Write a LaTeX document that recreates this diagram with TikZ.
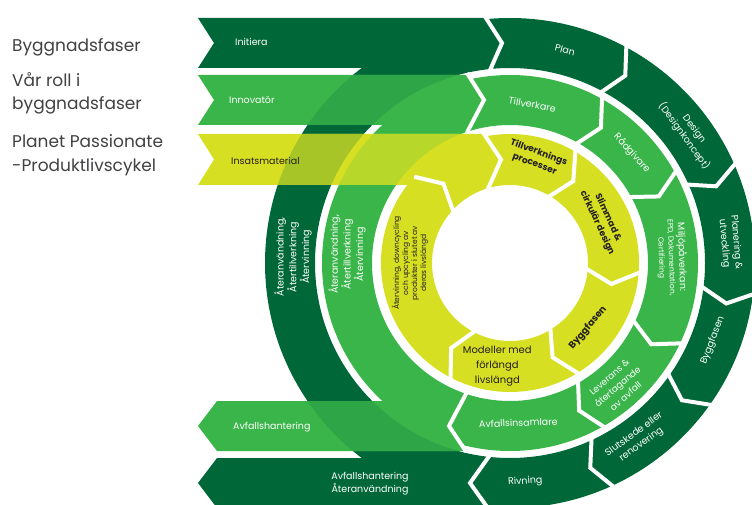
\documentclass[tikz,border=0pt]{standalone}
\usepackage{fontspec}
\setmainfont{Poppins}
\usetikzlibrary{calc}
\definecolor{dkg}{HTML}{006838}
\definecolor{ltg}{HTML}{39B54A}
\definecolor{ylw}{HTML}{D7DF23}
\definecolor{legendc}{HTML}{414042}
\definecolor{ink}{HTML}{231F20}
\colorlet{mixLD}{ltg!80!dkg}
\colorlet{mixYD}{ylw!78!dkg}
\colorlet{mixYL}{ylw!80!ltg}
\newcommand{\bandInit}{(198,-18) -- (485,-18) -- (502,-43) -- (488,-68) -- (198,-68) -- (214,-43) -- cycle}
\newcommand{\bandInno}{(198,-75) -- (467,-75) -- (484,-100) -- (467,-125) -- (198,-125) -- (214,-100) -- cycle}
\newcommand{\bandInsa}{(198,-134) -- (483,-134) -- (501,-159.5) -- (486,-185) -- (198,-185) -- (214,-159.5) -- cycle}
\newcommand{\bandAvfA}{(217,-401) -- (467,-401) -- (449,-426) -- (467,-451) -- (217,-451) -- (198,-426) -- cycle}
\newcommand{\bandAvfB}{(217,-458) -- (490,-458) -- (470,-483) -- (490,-508) -- (217,-508) -- (198,-483) -- cycle}
\newcommand{\ringD}{(C) circle[radius=245pt] (C) circle[radius=195pt]}
\newcommand{\ringL}{(C) circle[radius=188pt] (C) circle[radius=138pt]}
\newcommand{\ringY}{(C) circle[radius=129pt] (C) circle[radius=78pt]}
\begin{document}
\begin{tikzpicture}[x=1pt,y=1pt,
  sep/.style={draw=white, line width=4pt, line join=miter, line cap=butt},
  wlab/.style={text=white, font=\fontsize{9.5}{12}\selectfont, align=center, inner sep=0pt},
  ylab/.style={text=ink, font=\fontsize{9.5}{12.5}\selectfont\bfseries, align=center, inner sep=0pt},
  leg/.style={text=legendc, font=\fontsize{17}{20}\selectfont, anchor=base west, inner sep=0pt},
]
\useasboundingbox (0,0) rectangle (752,-505);
\coordinate (C) at (510,-263);
% rings
\expandafter\fill\expandafter[dkg, even odd rule] \ringD;
\expandafter\fill\expandafter[ltg, even odd rule] \ringL;
\expandafter\fill\expandafter[ylw, even odd rule] \ringY;
% bands
\expandafter\fill\expandafter[dkg] \bandInit;
\expandafter\fill\expandafter[ltg] \bandInno;
\expandafter\fill\expandafter[ylw] \bandInsa;
\expandafter\fill\expandafter[ltg] \bandAvfA;
\expandafter\fill\expandafter[dkg] \bandAvfB;
% overlaps
\begin{scope}
  \expandafter\clip\bandInno;
  \expandafter\fill\expandafter[mixLD, even odd rule] \ringD;
\end{scope}
\begin{scope}
  \expandafter\clip\bandAvfA;
  \expandafter\fill\expandafter[mixLD, even odd rule] \ringD;
\end{scope}
\begin{scope}
  \expandafter\clip\bandInsa;
  \expandafter\fill\expandafter[mixYD, even odd rule] \ringD;
  \expandafter\fill\expandafter[mixYL, even odd rule] \ringL;
\end{scope}
% separators: dark ring
\draw[sep] (484,-15) -- (502,-43) -- (489,-72.5);
\draw[sep] ($(C)+(62:248pt)$) -- ($(C)+(58.4:220pt)$) -- ($(C)+(62:193pt)$);
\draw[sep] ($(C)+(24:248pt)$) -- ($(C)+(20.4:220pt)$) -- ($(C)+(24:193pt)$);
\draw[sep] ($(C)+(-7:248pt)$) -- ($(C)+(-10.6:220pt)$) -- ($(C)+(-7:193pt)$);
\draw[sep] ($(C)+(-35:248pt)$) -- ($(C)+(-38.6:220pt)$) -- ($(C)+(-35:193pt)$);
\draw[sep] ($(C)+(-65:248pt)$) -- ($(C)+(-68.6:220pt)$) -- ($(C)+(-65:193pt)$);
\draw[sep] (490,-455) -- (470,-483) -- (490,-511);
% separators: light ring
\draw[sep] (467,-73) -- (484,-100) -- (467,-132.5);
\draw[sep] ($(C)+(61:190pt)$) -- ($(C)+(56.1:163pt)$) -- ($(C)+(61:136pt)$);
\draw[sep] ($(C)+(29:190pt)$) -- ($(C)+(24.1:163pt)$) -- ($(C)+(29:136pt)$);
\draw[sep] ($(C)+(-25:190pt)$) -- ($(C)+(-29.9:163pt)$) -- ($(C)+(-25:136pt)$);
\draw[sep] ($(C)+(-60:190pt)$) -- ($(C)+(-64.9:163pt)$) -- ($(C)+(-60:136pt)$);
\draw[sep] (467,-392) -- (449,-426) -- (466,-451.5);
% separators: yellow ring
\draw[sep] (483,-132.5) -- (501,-159.5) -- (487,-191);
\draw[sep] ($(C)+(60:131pt)$) -- ($(C)+(52.3:103.5pt)$) -- ($(C)+(60:76pt)$);
\draw[sep] ($(C)+(-4:131pt)$) -- ($(C)+(-11.7:103.5pt)$) -- ($(C)+(-4:76pt)$);
\draw[sep] ($(C)+(-58:131pt)$) -- ($(C)+(-65.7:103.5pt)$) -- ($(C)+(-58:76pt)$);
\draw[sep] ($(C)+(-117:131pt)$) -- ($(C)+(-124.7:103.5pt)$) -- ($(C)+(-117:76pt)$);
\draw[sep] ($(C)+(138:129pt)$) -- ($(C)+(130:103.5pt)$) -- ($(C)+(138:76pt)$);
% legend
\node[leg] (l1) at (12,-52) {Byggnadsfaser};
\node[leg] (l2) at (12,-87) {Vår roll i};
\node[leg] (l3) at (12,-110) {byggnadsfaser};
\node[leg] (l4) at (12,-148) {Planet Passionate};
\node[leg] (l5) at (12,-172) {-Produktlivscykel};
% band labels
\node[wlab, anchor=west] (tInit) at (235,-42) {Initiera};
\node[wlab, anchor=west] (tInno) at (229,-100) {Innovatör};
\node[wlab, text=ink, anchor=west] (tInsa) at (231,-161) {Insatsmaterial};
\node[wlab, font=\fontsize{9.5}{13}\selectfont] (tAvfB) at (370,-484) {Avfallshantering\\Återanvändning};
\node[wlab, anchor=west] (tAvfA) at (233,-427) {Avfallshantering};
% dark ring labels
\node[wlab, rotate=-14.5] (dPlan) at ($(C)+(75.5:220pt)$) {Plan};
\node[wlab, rotate=-54, font=\fontsize{9.5}{12.5}\selectfont] (dDesign) at ($(C)+(36:221pt)$) {Design\\(Designkoncept)};
\node[wlab, rotate=-85] (dPlanering) at ($(C)+(5.2:221pt)$) {Planering \&\\utveckling};
\node[wlab, rotate=69] (dBygg) at ($(C)+(-20.9:217pt)$) {Byggfasen};
\node[wlab, rotate=36, font=\fontsize{9.5}{12.5}\selectfont] (dSlut) at ($(C)+(-54.1:218pt)$) {Slutskede eller\\renovering};
\node[wlab, rotate=4] (dRiv) at ($(C)+(-86:219pt)$) {Rivning};
\node[wlab, rotate=90, font=\fontsize{9.5}{11.5}\selectfont] (dAter) at ($(C)+(178.4:217pt)$) {Återanvändning,\\Återtillverkning\\Återvinning};
% light ring labels
\node[wlab, rotate=-10] (lTill) at ($(C)+(82:160pt)$) {Tillverkare};
\node[wlab, rotate=-48] (lRad) at ($(C)+(42:164pt)$) {Rådgivare};
\node[wlab, rotate=-88, font=\fontsize{7.5}{10}\selectfont] (lMil) at ($(C)+(2:162pt)$) {{\fontsize{9.5}{10}\selectfont Miljöpåverkan:}\\EPD, Dokumentation,\\Certifiering};
\node[wlab, rotate=41, font=\fontsize{9}{12.5}\selectfont] (lLev) at ($(C)+(-49:164pt)$) {Leverans \&\\återtagande\\av avfall};
\node[wlab, rotate=2] (lAvf) at ($(C)+(-87:160pt)$) {Avfallsinsamlare};
\node[wlab, rotate=90, font=\fontsize{9.5}{11.5}\selectfont] (lAter) at ($(C)+(177:163pt)$) {Återanvändning,\\Återtillverkning\\Återvinning};
% yellow ring labels
\node[ylab, rotate=-20, font=\fontsize{9}{12.5}\selectfont\bfseries] (yTill) at ($(C)+(75.7:108pt)$) {Tillverknings\\processer};
\node[ylab, rotate=-65, font=\fontsize{9}{12}\selectfont\bfseries] (ySlim) at ($(C)+(24.8:102pt)$) {Slimmad \&\\cirkulär design};
\node[ylab, rotate=50] (yBygg) at ($(C)+(-39.8:101.5pt)$) {Byggfasen};
\node[ylab, font=\fontsize{10}{15}\selectfont] (yMod) at ($(C)+(-97:104pt)$) {Modeller med\\förlängd\\livslängd};
\node[ylab, rotate=90, font=\fontsize{7.5}{9}\selectfont\mdseries] (yAter) at ($(C)+(180:100pt)$) {Återvinning, downcycling\\och upcycling av\\produkter i slutet av\\deras livslängd};
\end{tikzpicture}
\end{document}
